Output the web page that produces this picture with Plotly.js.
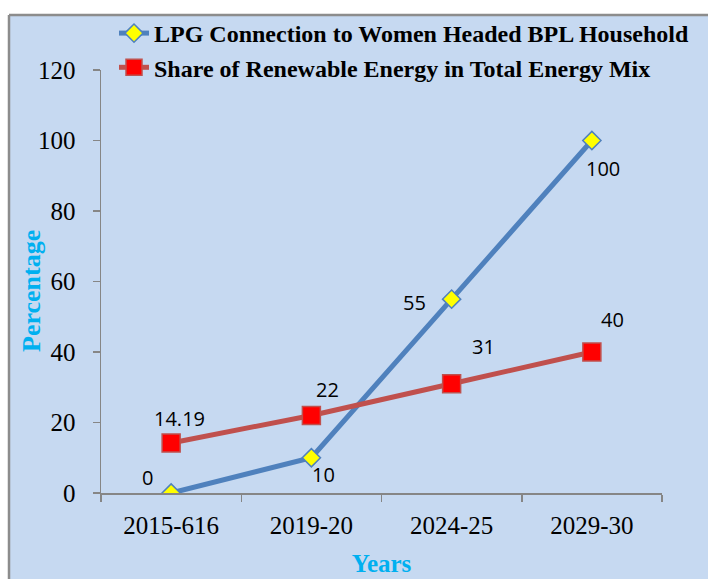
<!DOCTYPE html>
<html>
<head>
<meta charset="utf-8">
<script src="https://cdn.plot.ly/plotly-3.0.1.min.js"></script>
<style>html,body{margin:0;padding:0;background:#fff;}#chart{width:708px;height:579px;}</style>
</head>
<body>
<div id="chart"></div>
<script>
// ---- data ----
const years = ["2015-616", "2019-20", "2024-25", "2029-30"];
const lpgValues = [0, 10, 55, 100];
const renewableValues = [14.19, 22, 31, 40];
const lpgLabels = ["0", "10", "55", "100"];
const renewableLabels = ["14.19", "22", "31", "40"];
const seriesNames = ["LPG Connection to Women Headed BPL Household", "Share of Renewable Energy in Total Energy Mix"];
const xTitle = "Years";
const yTitle = "Percentage";

// ---- label offsets (style, px) ----
const lpgShift = [[-24, 16], [12, -17], [-37, -3], [11, -28]];
const renShift = [[8, 24], [16, 26], [32, 37], [21, 33]];

const W = 708, H = 579;
const m = {l: 101, r: 46, t: 70, b: 86, autoexpand: false};
const pw = W - m.l - m.r, ph = H - m.t - m.b;
const px = x => (x - m.l) / pw;
const py = y => (H - m.b - y) / ph;

const SERIF = "Liberation Serif";
const TITLE_COLOR = "#00B0F0";

const traces = [
  {
    x: years, y: lpgValues, name: seriesNames[0], type: "scatter", mode: "lines+markers",
    line: {color: "#4F81BD", width: 5},
    marker: {symbol: "diamond", size: 14, color: "#FFFF00", line: {color: "#4F81BD", width: 1.5}},
    legendgroup: "a", hoverinfo: "skip"
  },
  {
    x: years, y: renewableValues, name: seriesNames[1], type: "scatter", mode: "lines+markers",
    line: {color: "#C0504D", width: 5},
    marker: {symbol: "square", size: 18, color: "#FF0000", line: {color: "#C0504D", width: 1.5}},
    legendgroup: "b", hoverinfo: "skip"
  }
];

const labelFont = {family: "Open Sans", size: 20, color: "#000"};
const annotations = [];
lpgValues.forEach((v, i) => annotations.push({
  x: years[i], y: v, xref: "x", yref: "y", text: lpgLabels[i], showarrow: false,
  xshift: lpgShift[i][0], yshift: lpgShift[i][1], font: labelFont
}));
renewableValues.forEach((v, i) => annotations.push({
  x: years[i], y: v, xref: "x", yref: "y", text: renewableLabels[i], showarrow: false,
  xshift: renShift[i][0], yshift: renShift[i][1], font: labelFont
}));
annotations.push({
  xref: "paper", yref: "paper", x: px(31), y: py(291), text: yTitle, textangle: -90,
  showarrow: false, xanchor: "center", yanchor: "middle",
  font: {family: SERIF, size: 26, color: TITLE_COLOR, weight: "bold"}
});

const layout = {
  width: W, height: H,
  margin: m,
  font: {family: SERIF, size: 25, color: "#000"},
  paper_bgcolor: "#FFFFFF",
  plot_bgcolor: "rgba(0,0,0,0)",
  showlegend: true,
  legend: {
    x: px(114), y: py(11), xanchor: "left", yanchor: "top",
    bgcolor: "rgba(0,0,0,0)", tracegroupgap: 0,
    font: {family: SERIF, size: 24, color: "#000", weight: "bold"}
  },
  shapes: [
    {type: "rect", xref: "paper", yref: "paper", layer: "below",
     x0: px(9), x1: px(708), y0: py(15), y1: py(579),
     fillcolor: "#C6D9F1", line: {width: 0}},
    {type: "line", xref: "paper", yref: "paper", layer: "below",
     x0: px(9), x1: px(708), y0: py(15), y1: py(15),
     line: {color: "#8C8C8C", width: 2.5}},
    {type: "line", xref: "paper", yref: "paper", layer: "below",
     x0: px(9), x1: px(9), y0: py(15), y1: py(579),
     line: {color: "#8C8C8C", width: 2.5}}
  ],
  xaxis: {
    type: "category", range: [-0.5, 3.5], automargin: false,
    showline: true, linecolor: "#868686", linewidth: 1.5,
    ticks: "outside", tickson: "boundaries", ticklen: 7, tickcolor: "#868686", tickwidth: 1.5,
    ticklabelstandoff: 9,
    showgrid: false, zeroline: false,
    tickfont: {family: SERIF, size: 25, color: "#000", weight: "normal"},
    title: {text: xTitle, standoff: 17, font: {family: SERIF, size: 25, color: TITLE_COLOR, weight: "bold"}}
  },
  yaxis: {
    range: [0, 120], dtick: 20, tick0: 0, automargin: false,
    showline: true, linecolor: "#868686", linewidth: 1.5,
    ticks: "outside", ticklen: 7, tickcolor: "#868686", tickwidth: 1.5,
    ticklabelstandoff: 12,
    showgrid: false, zeroline: false,
    tickfont: {family: SERIF, size: 25, color: "#000", weight: "normal"}
  },
  annotations: annotations
};

Plotly.newPlot("chart", traces, layout, {displayModeBar: false, staticPlot: true});
</script>
</body>
</html>
